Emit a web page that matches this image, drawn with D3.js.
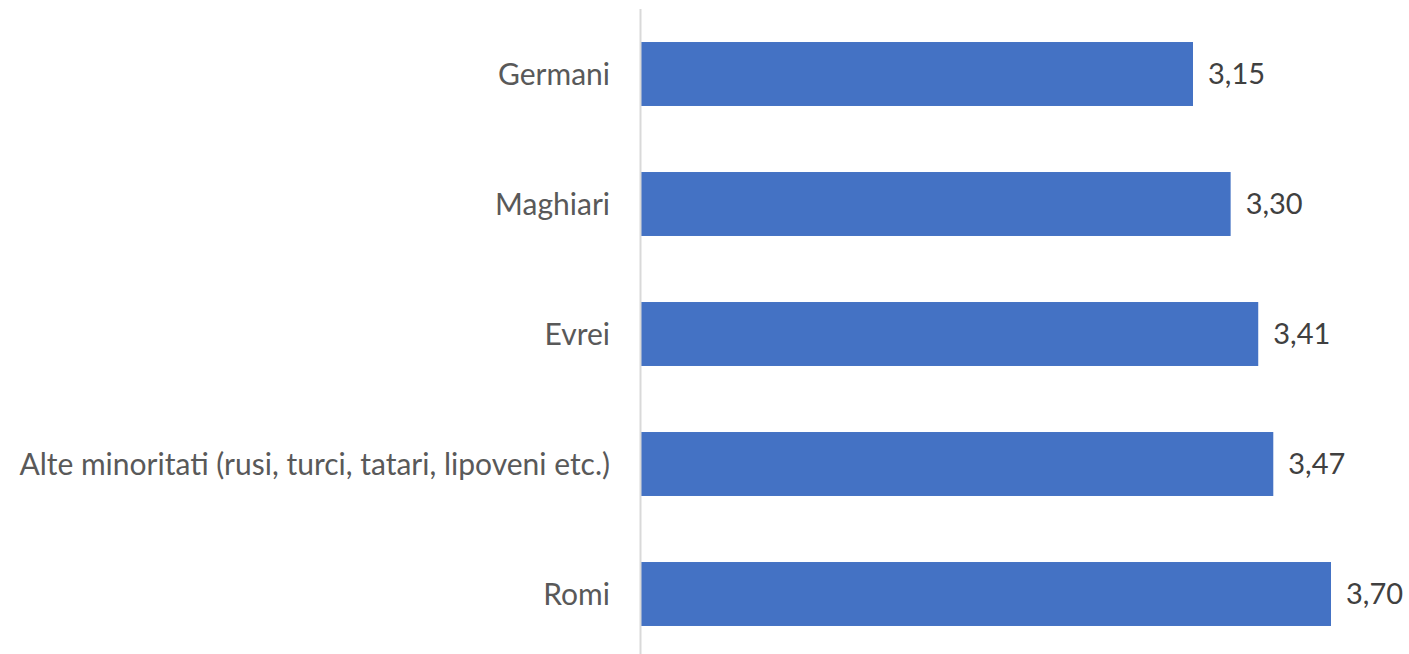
<!DOCTYPE html>
<html>
<head>
<meta charset="utf-8">
<script src="https://cdn.jsdelivr.net/npm/d3@7"></script>
<style>
  html, body { margin: 0; padding: 0; background: #fff; }
  svg { display: block; }
</style>
</head>
<body>
<svg id="chart" width="1409" height="654"></svg>
<script>
"use strict";

const categories = [
  "Germani",
  "Maghiari",
  "Evrei",
  "Alte minoritati (rusi, turci, tatari, lipoveni etc.)",
  "Romi"
];
const values = [3.15, 3.30, 3.41, 3.47, 3.70];
const valueLabels = ["3,15", "3,30", "3,41", "3,47", "3,70"];

const FONT = "Lato, 'Open Sans', sans-serif";
const svg = d3.select("#chart");

const axisX = 641;
const x = d3.scaleLinear()
  .domain([0.95, 3.70])
  .range([axisX, 1331]);

const y = d3.scaleBand()
  .domain(categories)
  .range([9, 659])
  .paddingInner(0.508)
  .paddingOuter(0.254);

// bars
svg.selectAll("rect.bar")
  .data(values)
  .enter().append("rect")
  .attr("class", "bar")
  .attr("x", x(0.95))
  .attr("y", (d, i) => y(categories[i]))
  .attr("width", d => x(d) - x(0.95))
  .attr("height", y.bandwidth())
  .attr("fill", "#4472C4");

// vertical axis line
svg.append("line")
  .attr("x1", axisX - 0.5).attr("x2", axisX - 0.5)
  .attr("y1", 9).attr("y2", 654)
  .attr("stroke", "#d9d9d9")
  .attr("stroke-width", 2);

// category labels
svg.selectAll("text.cat")
  .data(categories)
  .enter().append("text")
  .attr("class", "cat")
  .attr("x", axisX - 31)
  .attr("y", d => y(d) + y.bandwidth() / 2)
  .attr("dy", "0.35em")
  .attr("text-anchor", "end")
  .attr("font-family", FONT)
  .attr("font-size", 30)
  .attr("fill", "#595959")
  .text(d => d);

// value labels
svg.selectAll("text.val")
  .data(values)
  .enter().append("text")
  .attr("class", "val")
  .attr("x", d => x(d) + 15)
  .attr("y", (d, i) => y(categories[i]) + y.bandwidth() / 2)
  .attr("dy", "0.35em")
  .attr("font-family", FONT)
  .attr("font-size", 29)
  .attr("fill", "#404040")
  .text((d, i) => valueLabels[i]);
</script>
</body>
</html>
